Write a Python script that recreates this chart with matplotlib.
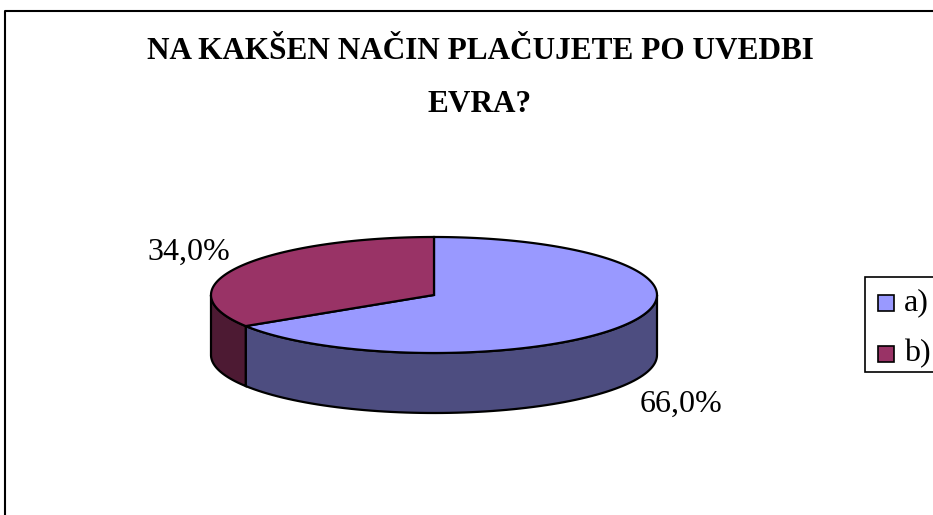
import numpy as np
import matplotlib.pyplot as plt
from matplotlib.patches import Polygon, Rectangle

labels = ['a)', 'b)']
values = [66.0, 34.0]
pct_labels = ['66,0%', '34,0%']
top_colors = ['#9999FF', '#993366']
side_colors = ['#4D4D80', '#4D1A33']

title = 'NA KAKŠEN NAČIN PLAČUJETE PO UVEDBI\nEVRA?'

plt.rcParams['font.family'] = ['Liberation Serif', 'DejaVu Serif']

fig = plt.figure(figsize=(9.33, 5.15), dpi=100)
ax = fig.add_axes([0, 0, 1, 1])
ax.set_xlim(0, 933)
ax.set_ylim(515, 0)
ax.axis('off')

# chart frame (cropped on right/bottom)
ax.plot([5, 5, 940], [520, 11, 11], color='black', lw=1.5)

cx, cy, rx, ry, depth = 434, 295, 223, 58, 60

def pt(a, dy=0):
    return cx + rx * np.cos(np.radians(a)), cy - ry * np.sin(np.radians(a)) + dy

# slice angles: start at 12 o'clock, clockwise
total = sum(values)
starts, ends = [], []
a = 90.0
for v in values:
    starts.append(a)
    a -= 360 * v / total
    ends.append(a)

# side walls (front half: angles -180..0)
for i in range(len(values)):
    hi, lo = starts[i], ends[i]
    for off in (0, -360, 360):
        h, l = min(hi + off, 0), max(lo + off, -180)
        if h > l:
            t = np.linspace(h, l, 80)
            up = [pt(x) for x in t]
            dn = [pt(x, depth) for x in t[::-1]]
            ax.add_patch(Polygon(up + dn, closed=True, facecolor=side_colors[i],
                                 edgecolor='black', lw=1.6, zorder=2))

# top faces
for i in range(len(values)):
    t = np.linspace(starts[i], ends[i], 200)
    pts = [(cx, cy)] + [pt(x) for x in t]
    ax.add_patch(Polygon(pts, closed=True, facecolor=top_colors[i],
                         edgecolor='black', lw=1.6, zorder=3))

# percentage labels
ax.text(681, 404, pct_labels[0], fontsize=23, ha='center', va='center')
ax.text(189, 252, pct_labels[1], fontsize=23, ha='center', va='center')

# title
ax.text(480, 78, title, fontsize=22.5, fontweight='bold', ha='center', va='center',
        linespacing=2.1)

# legend
ax.add_patch(Rectangle((865, 277), 80, 95, facecolor='white', edgecolor='black', lw=1.2))
for i, lab in enumerate(labels):
    y = 303 + i * 51
    ax.add_patch(Rectangle((878, y - 8), 16, 16, facecolor=top_colors[i],
                           edgecolor='black', lw=1.2))
    ax.text(904, y, lab, fontsize=23, ha='left', va='center')

fig.savefig('out.png', dpi=100)
